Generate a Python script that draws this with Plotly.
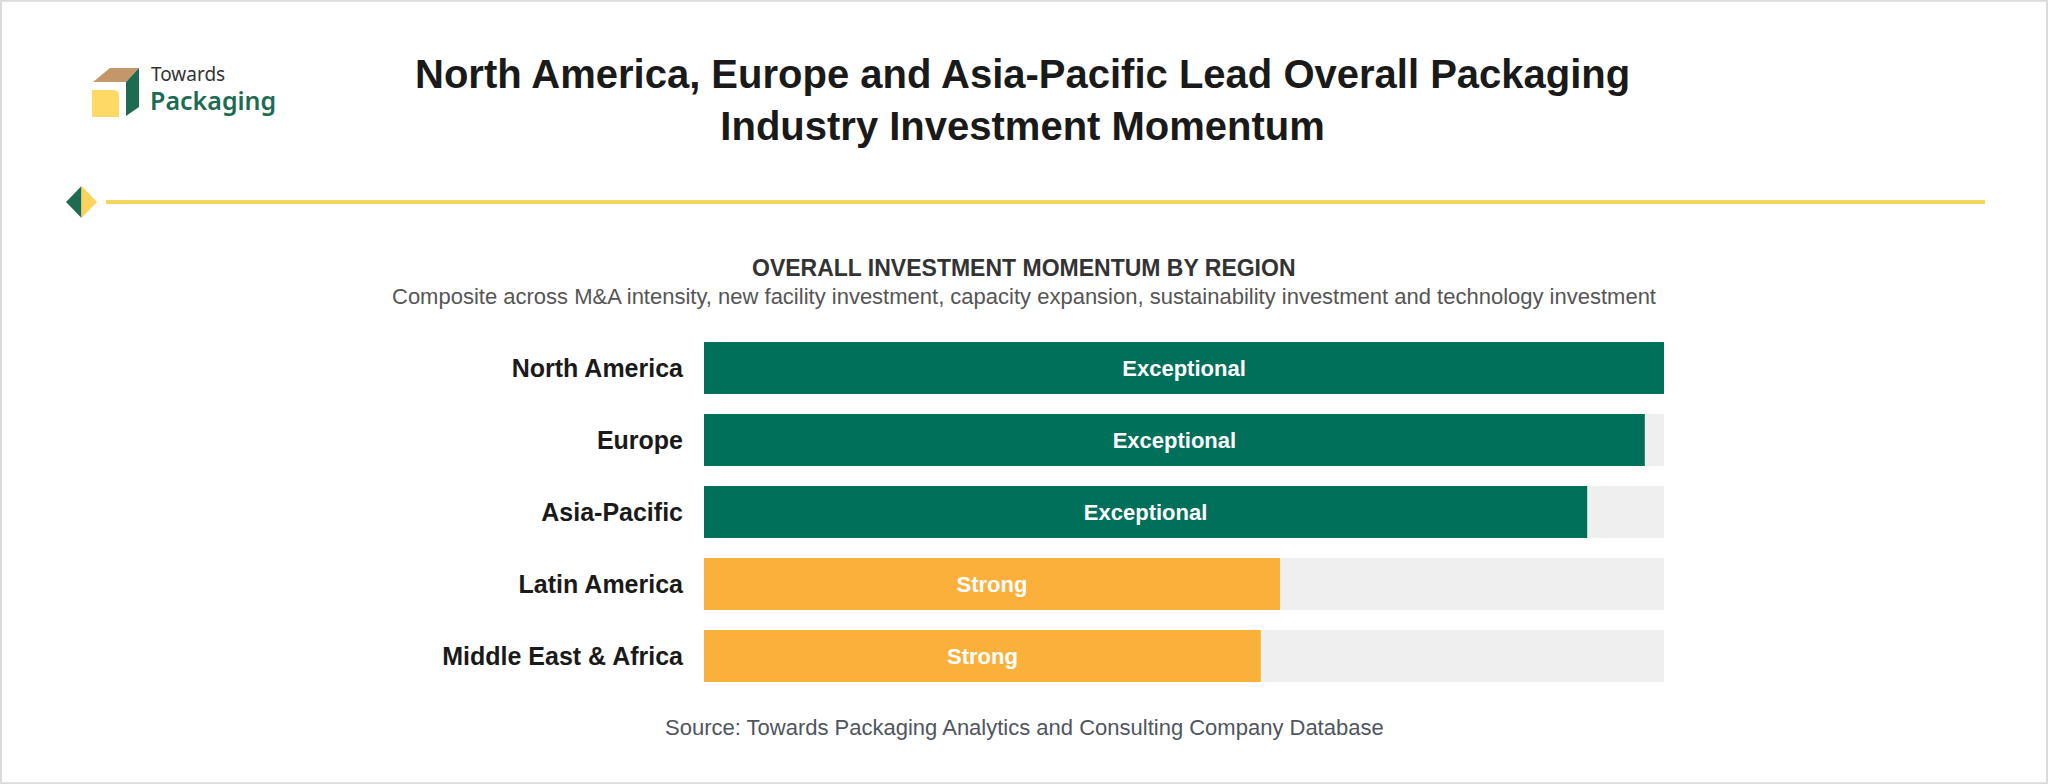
import plotly.graph_objects as go

regions = ["North America", "Europe", "Asia-Pacific", "Latin America", "Middle East & Africa"]
scores = [100, 98, 92, 60, 58]
ratings = ["Exceptional", "Exceptional", "Exceptional", "Strong", "Strong"]
track_max = [100, 100, 100, 100, 100]

GREEN = "#00705A"
ORANGE = "#FBB03B"
TRACK = "#EFEFEF"
colors = [GREEN if r == "Exceptional" else ORANGE for r in ratings]

W, H = 2048, 784
FONT = "Liberation Sans, Arial, sans-serif"

fig = go.Figure()
fig.add_trace(go.Bar(
    y=regions, x=track_max, orientation="h", marker=dict(color=TRACK, line=dict(width=0)),
    width=0.72, hoverinfo="skip", showlegend=False,
))
fig.add_trace(go.Bar(
    y=regions, x=scores, orientation="h", marker=dict(color=colors, line=dict(width=0)),
    width=0.72, text=ratings, textposition="inside", insidetextanchor="middle",
    textangle=0, constraintext="none",
    textfont=dict(family=FONT, size=22, color="white", weight="bold"),
    showlegend=False,
))

def px_x(v):
    return v / W

def px_y(v):
    return 1 - v / H

fig.update_layout(
    width=W, height=H,
    margin=dict(l=0, r=0, t=0, b=0),
    paper_bgcolor="white", plot_bgcolor="white",
    barmode="overlay",
    xaxis=dict(domain=[px_x(704), px_x(1664)], range=[0, 100], visible=False, fixedrange=True),
    yaxis=dict(domain=[px_y(692), px_y(332)], autorange="reversed", showgrid=False, zeroline=False,
               showline=False, ticks="", ticklabelstandoff=20, fixedrange=True,
               tickfont=dict(family=FONT, size=25, color="#1a1a1a", weight="bold")),
    font=dict(family=FONT),
)

shapes = []
# outer border
shapes.append(dict(type="rect", xref="paper", yref="paper", x0=0.0005, y0=0.001, x1=0.9995, y1=0.999,
                   line=dict(color="#DADADA", width=2), fillcolor="rgba(0,0,0,0)"))
# gold divider line
shapes.append(dict(type="line", xref="paper", yref="paper", x0=px_x(106), x1=px_x(1985),
                   y0=px_y(202), y1=px_y(202), line=dict(color="#F8D45C", width=4)))
# diamond: green left half, yellow right half
shapes.append(dict(type="path", xref="paper", yref="paper",
                   path=f"M {px_x(66)} {px_y(202)} L {px_x(81.5)} {px_y(186)} L {px_x(81.5)} {px_y(218)} Z",
                   fillcolor="#1E6B52", line=dict(width=0)))
shapes.append(dict(type="path", xref="paper", yref="paper",
                   path=f"M {px_x(81.5)} {px_y(186)} L {px_x(97)} {px_y(202)} L {px_x(81.5)} {px_y(218)} Z",
                   fillcolor="#FDD35C", line=dict(width=0)))
# logo: tan top
shapes.append(dict(type="path", xref="paper", yref="paper",
                   path=f"M {px_x(93)} {px_y(82)} L {px_x(110)} {px_y(68)} L {px_x(139)} {px_y(68)} L {px_x(126)} {px_y(82)} Z",
                   fillcolor="#C4976A", line=dict(width=0)))
# logo: green side
shapes.append(dict(type="path", xref="paper", yref="paper",
                   path=f"M {px_x(126)} {px_y(82)} L {px_x(139)} {px_y(68)} L {px_x(139)} {px_y(107)} L {px_x(126)} {px_y(116)} Z",
                   fillcolor="#1E6B52", line=dict(width=0)))
# logo: yellow front with rounded top-right
shapes.append(dict(type="path", xref="paper", yref="paper",
                   path=(f"M {px_x(92)} {px_y(117)} L {px_x(92)} {px_y(90)} L {px_x(113)} {px_y(90)} "
                         f"Q {px_x(119)} {px_y(90)} {px_x(119)} {px_y(96)} L {px_x(119)} {px_y(117)} Z"),
                   fillcolor="#FFD966", line=dict(width=0)))
fig.update_layout(shapes=shapes)

ann = []
ann.append(dict(text="<b>North America, Europe and Asia-Pacific Lead Overall Packaging<br>Industry Investment Momentum</b>",
                xref="paper", yref="paper", x=px_x(1022), y=px_y(100), xanchor="center", yanchor="middle",
                showarrow=False, align="center", font=dict(family=FONT, size=40, color="#1a1a1a")))
ann.append(dict(text="<b>OVERALL INVESTMENT MOMENTUM BY REGION</b>", xref="paper", yref="paper",
                x=px_x(1024), y=px_y(268), xanchor="center", yanchor="middle", showarrow=False,
                font=dict(family=FONT, size=23, color="#333333")))
ann.append(dict(text="Composite across M&A intensity, new facility investment, capacity expansion, sustainability investment and technology investment",
                xref="paper", yref="paper", x=px_x(1024), y=px_y(296), xanchor="center", yanchor="middle",
                showarrow=False, font=dict(family=FONT, size=22, color="#555555")))
ann.append(dict(text="Source: Towards Packaging Analytics and Consulting Company Database",
                xref="paper", yref="paper", x=px_x(1024), y=px_y(727), xanchor="center", yanchor="middle",
                showarrow=False, font=dict(family=FONT, size=22, color="#4f5560")))
ann.append(dict(text="Towards", xref="paper", yref="paper", x=px_x(150), y=px_y(73.5),
                xanchor="left", yanchor="middle", showarrow=False, borderpad=0,
                font=dict(family="Noto Sans, sans-serif", size=19, color="#333333")))
ann.append(dict(text="Packaging", xref="paper", yref="paper", x=px_x(149), y=px_y(100.5),
                xanchor="left", yanchor="middle", showarrow=False, borderpad=0,
                font=dict(family="Noto Sans, sans-serif", size=25, color="#1E6B52", weight=600)))
fig.update_layout(annotations=ann)

fig.write_html("out.html", config={"displayModeBar": False},
               post_script="document.body.style.margin='0';document.body.style.overflow='hidden';")
